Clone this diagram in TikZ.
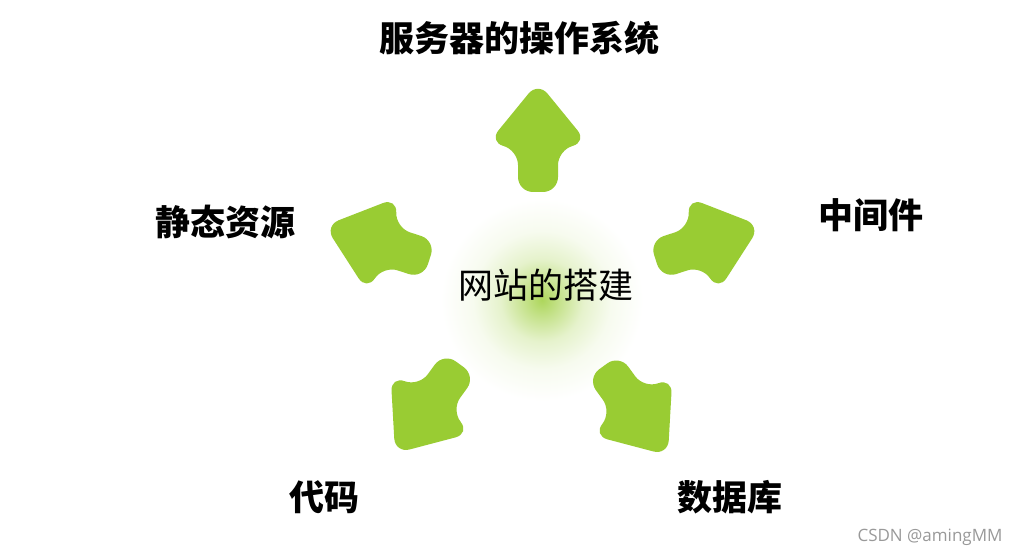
\documentclass[tikz,border=0pt]{standalone}
\usepackage{fontspec}
\newfontfamily\cjk{Noto Sans CJK SC}
\newfontfamily\wm{Open Sans}
\definecolor{arrowgreen}{HTML}{99CC33}
\pgfdeclareradialshading{glow}{\pgfpoint{0bp}{0bp}}{color(0bp)=(arrowgreen!80); color(4bp)=(arrowgreen!55); color(9bp)=(arrowgreen!25); color(15bp)=(arrowgreen!8); color(22bp)=(white); color(50bp)=(white)}
\tikzset{
  bigarrow/.pic={\fill[arrowgreen, rounded corners=15pt] (0,56) -- (49,-4) -- (20,-12) -- (20,-54) -- (-20,-54) -- (-20,-12) -- (-49,-4) -- cycle;},
  lab/.style={font=\cjk\bfseries\fontsize{35}{40}\selectfont, inner sep=0pt},
}
\begin{document}
\begin{tikzpicture}[x=1pt,y=1pt]
\useasboundingbox (0,0) rectangle (1025,556);
\fill[white] (0,0) rectangle (1025,556);
% glow
\shade[shading=glow] (542,256) circle (115);
% arrows
\pic at (538,418) {bigarrow};
\pic[rotate=-72] at (707,313) {bigarrow};
\pic[rotate=-144] at (635,146) {bigarrow};
\pic[rotate=144] at (428,148) {bigarrow};
\pic[rotate=72] at (378,313) {bigarrow};
% labels
\node[lab] (os) at (519,518) {服务器的操作系统};
\node[lab] (mid) at (871,341) {中间件};
\node[lab] (db) at (730,59) {数据库};
\node[lab] (code) at (324,59) {代码};
\node[lab] (static) at (225,334) {静态资源};
\node[font=\cjk\fontsize{35}{40}\selectfont, inner sep=0pt] (center) at (546,271) {网站的搭建};
\node[font=\wm\fontsize{17}{20}\selectfont, text=black!40, inner sep=0pt] (wmark) at (930,19) {CSDN @amingMM};
\end{tikzpicture}
\end{document}
